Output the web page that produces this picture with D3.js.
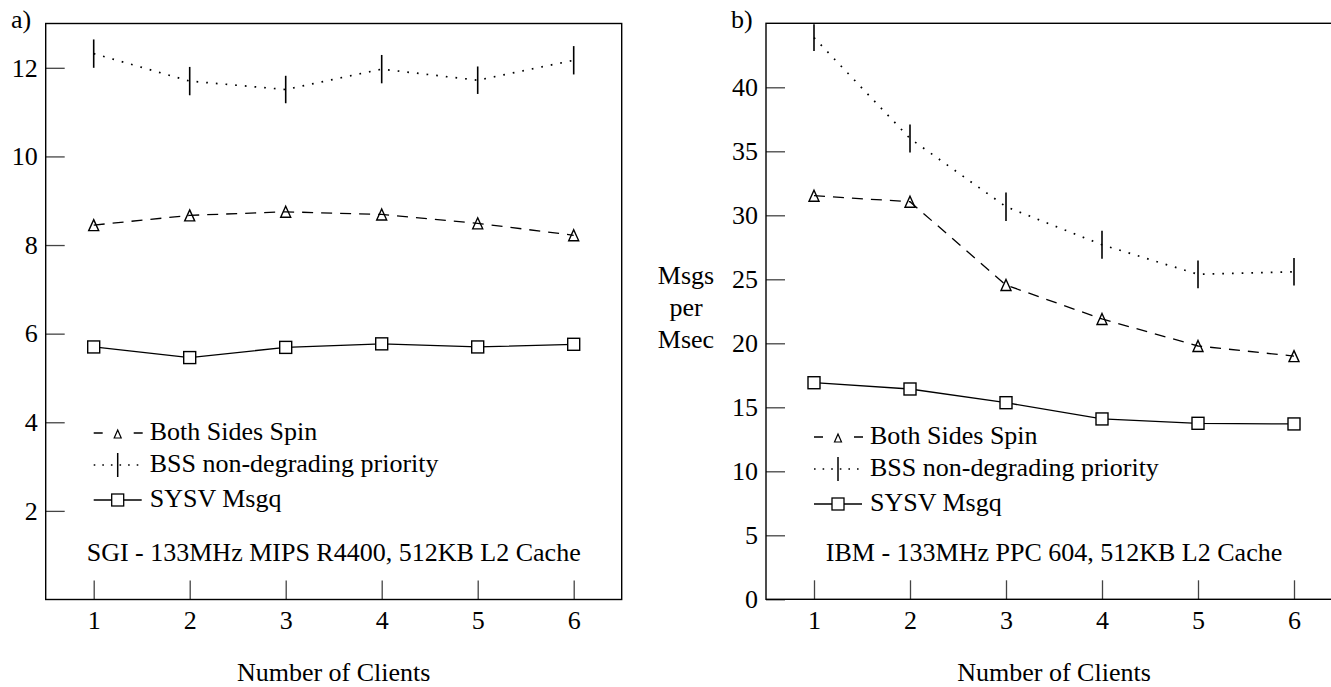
<!DOCTYPE html>
<html>
<head>
<meta charset="utf-8">
<script src="https://cdn.jsdelivr.net/npm/d3@7"></script>
<style>
  body { margin: 0; background: #fff; }
</style>
</head>
<body>
<svg id="chart" width="1331" height="687"></svg>
<script>
const clients = [1, 2, 3, 4, 5, 6];
const legendLabels = ["Both Sides Spin", "BSS non-degrading priority", "SYSV Msgq"];

// a) SGI
const sgiSpin = [8.45, 8.67, 8.75, 8.69, 8.49, 8.22];
const sgiBss = [12.32, 11.70, 11.51, 11.97, 11.72, 12.17];
const sgiBssErr = [0.32, 0.32, 0.31, 0.32, 0.31, 0.32];
const sgiMsgq = [5.70, 5.46, 5.69, 5.77, 5.70, 5.76];
const sgiTicks = [2, 4, 6, 8, 10, 12];

// b) IBM
const ibmSpin = [31.53, 31.06, 24.55, 21.9, 19.79, 19.0];
const ibmBss = [43.88, 36.0, 30.67, 27.7, 25.39, 25.59];
const ibmBssErr = [1.05, 1.09, 1.12, 1.09, 1.08, 1.08];
const ibmMsgq = [16.92, 16.43, 15.36, 14.09, 13.75, 13.7];
const ibmTicks = [0, 5, 10, 15, 20, 25, 30, 35, 40];

const FONT = "'Liberation Serif'";
const svg = d3.select("#chart");

function triPath(cx, cy, w, h) {
  return `M${cx},${cy - h} L${cx + w},${cy + h} L${cx - w},${cy + h} Z`;
}

function label(g, x, y, t) {
  return g.append("text").attr("x", x).attr("y", y)
    .style("font-family", FONT).style("font-size", "26px").attr("fill", "#000").text(t);
}

function drawPanel(p) {
  const g = svg.append("g");
  const x = d3.scaleLinear().domain([0.5, 6.5]).range([p.left, p.right]);
  const y = d3.scaleLinear().domain([0, p.yMax]).range([p.bottom, p.top]);

  // y axis, ticks pointing inward
  g.append("g")
    .attr("transform", `translate(${p.left},0)`)
    .call(d3.axisLeft(y).tickValues(p.ticks).tickSize(-19).tickPadding(8).tickFormat(d3.format("d")))
    .call(a => a.select(".domain").remove())
    .attr("color", "#444")
    .selectAll("line").attr("stroke-width", 1.3);

  g.append("g")
    .attr("transform", `translate(0,${p.bottom})`)
    .call(d3.axisBottom(x).tickValues(clients).tickSize(-19).tickPadding(11).tickFormat(d3.format("d")))
    .call(a => a.select(".domain").remove())
    .attr("color", "#444")
    .selectAll("line").attr("stroke-width", 1.3);

  g.selectAll(".tick text").attr("fill", "#000")
    .style("font-family", FONT).style("font-size", "26px");

  g.append("rect")
    .attr("x", p.left).attr("y", p.top)
    .attr("width", p.right - p.left).attr("height", p.bottom - p.top)
    .attr("fill", "none").attr("stroke", "#000").attr("stroke-width", 1.4);

  const line = vals => d3.line().x((d, i) => x(clients[i])).y(d => y(d))(vals);

  // BSS non-degrading priority: dotted with error bars
  g.append("path").attr("d", line(p.bss))
    .attr("fill", "none").attr("stroke", "#000").attr("stroke-width", 1.7)
    .attr("stroke-dasharray", "1.7,8");
  g.selectAll(".err").data(p.bss).enter().append("line")
    .attr("x1", (d, i) => x(clients[i])).attr("x2", (d, i) => x(clients[i]))
    .attr("y1", (d, i) => y(d - p.bssErr[i])).attr("y2", (d, i) => y(d + p.bssErr[i]))
    .attr("stroke", "#000").attr("stroke-width", 1.6);

  // Both Sides Spin: dashed with triangles
  g.append("path").attr("d", line(p.spin))
    .attr("fill", "none").attr("stroke", "#000").attr("stroke-width", 1.3)
    .attr("stroke-dasharray", "11,8");
  g.selectAll(".tri").data(p.spin).enter().append("path")
    .attr("d", (d, i) => triPath(x(clients[i]), y(d), 5, 5.5))
    .attr("fill", "none").attr("stroke", "#000").attr("stroke-width", 1.4);

  // SYSV Msgq: solid with squares
  g.append("path").attr("d", line(p.msgq))
    .attr("fill", "none").attr("stroke", "#000").attr("stroke-width", 1.3);
  g.selectAll(".sq").data(p.msgq).enter().append("rect")
    .attr("x", (d, i) => x(clients[i]) - 6).attr("y", d => y(d) - 6)
    .attr("width", 12).attr("height", 12)
    .attr("fill", "#fff").attr("stroke", "#000").attr("stroke-width", 1.4);

  // legend
  const lx = x(1), mx = lx + 24;
  const rows = [0, 32, 67].map(o => p.legendY + o);
  legendLabels.forEach((t, i) => label(g, lx + 56, rows[i], t));
  const ly = rows.map(r => r - 7);
  g.append("path").attr("d", `M${lx},${ly[0]} H${lx + 49}`)
    .attr("stroke", "#000").attr("stroke-width", 1.3).attr("stroke-dasharray", "9,31");
  g.append("path").attr("d", triPath(mx, ly[0] + 1, 3.5, 4))
    .attr("fill", "none").attr("stroke", "#000").attr("stroke-width", 1.2);
  g.append("path").attr("d", `M${lx},${ly[1]} H${lx + 49}`)
    .attr("stroke", "#000").attr("stroke-width", 1.6).attr("stroke-dasharray", "1.6,7");
  g.append("line").attr("x1", mx).attr("x2", mx).attr("y1", ly[1] - 12).attr("y2", ly[1] + 12)
    .attr("stroke", "#000").attr("stroke-width", 1.5);
  g.append("path").attr("d", `M${lx},${ly[2]} H${lx + 48}`)
    .attr("stroke", "#000").attr("stroke-width", 1.3);
  g.append("rect").attr("x", mx - 6).attr("y", ly[2] - 6).attr("width", 12).attr("height", 12)
    .attr("fill", "#fff").attr("stroke", "#000").attr("stroke-width", 1.3);

  // caption inside plot, axis title, panel letter
  const cx = (p.left + p.right) / 2;
  label(g, cx, 561, p.caption).attr("text-anchor", "middle");
  label(g, cx, 681, "Number of Clients").attr("text-anchor", "middle");
  label(g, p.letterX, 28, p.letter);

  return g;
}

drawPanel({
  left: 45.7, right: 621.7, top: 23.5, bottom: 599.5, yMax: 13,
  ticks: sgiTicks, spin: sgiSpin, bss: sgiBss, bssErr: sgiBssErr, msgq: sgiMsgq,
  legendY: 440, caption: "SGI - 133MHz MIPS R4400, 512KB L2 Cache",
  letter: "a)", letterX: 11
});

drawPanel({
  left: 766, right: 1342, top: 23.3, bottom: 599.3, yMax: 45,
  ticks: ibmTicks, spin: ibmSpin, bss: ibmBss, bssErr: ibmBssErr, msgq: ibmMsgq,
  legendY: 444, caption: "IBM - 133MHz PPC 604, 512KB L2 Cache",
  letter: "b)", letterX: 731
});

// y axis title of panel b
["Msgs", "per", "Msec"].forEach((t, i) => {
  label(svg, 686, 284 + i * 32, t).attr("text-anchor", "middle");
});
</script>
</body>
</html>
